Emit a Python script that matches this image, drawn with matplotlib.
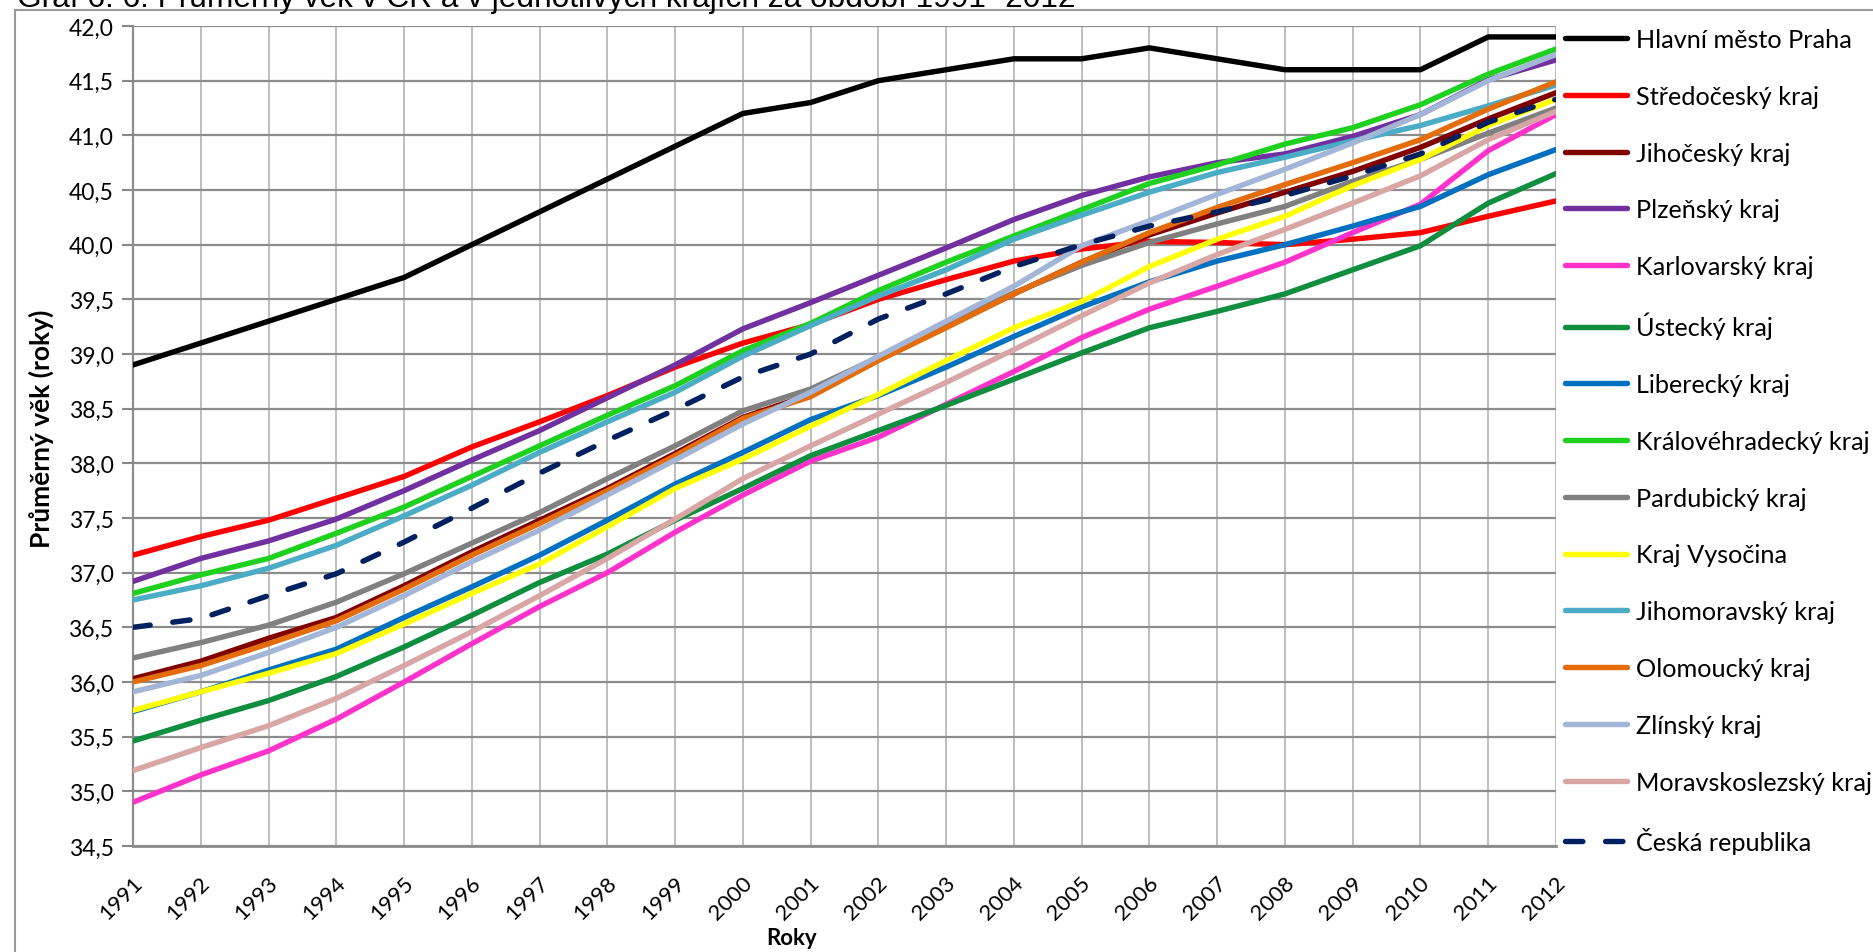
import matplotlib
matplotlib.use('Agg')
import matplotlib.pyplot as plt
from matplotlib.patches import Rectangle
from matplotlib.transforms import ScaledTranslation
import numpy as np

plt.rcParams['font.family'] = ['Lato', 'DejaVu Sans']

years = list(range(1991, 2013))

regions = ['Hlavní město Praha', 'Středočeský kraj', 'Jihočeský kraj', 'Plzeňský kraj',
           'Karlovarský kraj', 'Ústecký kraj', 'Liberecký kraj', 'Královéhradecký kraj',
           'Pardubický kraj', 'Kraj Vysočina', 'Jihomoravský kraj', 'Olomoucký kraj',
           'Zlínský kraj', 'Moravskoslezský kraj', 'Česká republika']

# average age per year, 1991-2012
praha = [38.9, 39.1, 39.3, 39.5, 39.7, 40.0, 40.3, 40.6, 40.9, 41.2, 41.3,
         41.5, 41.6, 41.7, 41.7, 41.8, 41.7, 41.6, 41.6, 41.6, 41.9, 41.9]
stredocesky = [37.16, 37.33, 37.48, 37.68, 37.88, 38.15, 38.38, 38.62, 38.88, 39.1, 39.27,
               39.5, 39.68, 39.85, 39.96, 40.03, 40.02, 40.0, 40.05, 40.11, 40.26, 40.4]
jihocesky = [36.03, 36.19, 36.4, 36.59, 36.88, 37.19, 37.48, 37.77, 38.09, 38.42, 38.63,
             38.95, 39.25, 39.55, 39.84, 40.09, 40.29, 40.48, 40.67, 40.89, 41.15, 41.39]
plzensky = [36.92, 37.13, 37.29, 37.49, 37.75, 38.03, 38.3, 38.6, 38.9, 39.23, 39.47,
            39.72, 39.97, 40.23, 40.45, 40.62, 40.75, 40.83, 40.99, 41.19, 41.51, 41.69]
karlovarsky = [34.9, 35.15, 35.37, 35.66, 36.0, 36.35, 36.69, 37.0, 37.37, 37.71, 38.02,
               38.24, 38.54, 38.84, 39.15, 39.41, 39.62, 39.84, 40.11, 40.37, 40.86, 41.19]
ustecky = [35.46, 35.65, 35.83, 36.05, 36.32, 36.61, 36.91, 37.17, 37.48, 37.77, 38.07,
           38.3, 38.53, 38.77, 39.01, 39.24, 39.39, 39.55, 39.77, 39.99, 40.38, 40.65]
liberecky = [35.73, 35.91, 36.11, 36.3, 36.59, 36.87, 37.16, 37.48, 37.81, 38.1, 38.4,
             38.62, 38.88, 39.16, 39.43, 39.66, 39.85, 40.0, 40.17, 40.35, 40.64, 40.87]
kralovehradecky = [36.81, 36.98, 37.13, 37.36, 37.6, 37.88, 38.16, 38.44, 38.71, 39.03, 39.28,
                   39.58, 39.84, 40.08, 40.32, 40.56, 40.73, 40.92, 41.07, 41.28, 41.56, 41.79]
pardubicky = [36.22, 36.36, 36.52, 36.73, 36.99, 37.27, 37.55, 37.86, 38.16, 38.48, 38.68,
              38.97, 39.27, 39.56, 39.81, 40.02, 40.19, 40.35, 40.58, 40.78, 41.02, 41.25]
vysocina = [35.74, 35.91, 36.08, 36.26, 36.53, 36.81, 37.08, 37.42, 37.77, 38.04, 38.34,
            38.63, 38.94, 39.24, 39.48, 39.8, 40.05, 40.26, 40.54, 40.78, 41.09, 41.33]
jihomoravsky = [36.75, 36.88, 37.04, 37.25, 37.52, 37.8, 38.1, 38.38, 38.65, 38.98, 39.26,
                39.53, 39.77, 40.05, 40.27, 40.48, 40.66, 40.8, 40.95, 41.09, 41.27, 41.46]
olomoucky = [36.0, 36.15, 36.35, 36.56, 36.85, 37.16, 37.45, 37.75, 38.07, 38.41, 38.61,
             38.94, 39.24, 39.55, 39.84, 40.11, 40.34, 40.55, 40.75, 40.96, 41.24, 41.49]
zlinsky = [35.91, 36.06, 36.27, 36.5, 36.79, 37.1, 37.39, 37.71, 38.03, 38.36, 38.65,
           38.98, 39.3, 39.62, 39.99, 40.22, 40.46, 40.69, 40.93, 41.19, 41.5, 41.74]
moravskoslezsky = [35.19, 35.4, 35.6, 35.85, 36.15, 36.46, 36.79, 37.13, 37.49, 37.86, 38.16,
                   38.45, 38.74, 39.04, 39.35, 39.65, 39.91, 40.14, 40.38, 40.63, 40.96, 41.22]
cr = [36.5, 36.58, 36.79, 36.99, 37.28, 37.59, 37.91, 38.21, 38.49, 38.79, 39.0,
      39.32, 39.55, 39.8, 40.0, 40.17, 40.3, 40.45, 40.63, 40.83, 41.12, 41.33]

series = [praha, stredocesky, jihocesky, plzensky, karlovarsky, ustecky, liberecky,
          kralovehradecky, pardubicky, vysocina, jihomoravsky, olomoucky, zlinsky,
          moravskoslezsky, cr]

colors = ['#000000', '#FF0000', '#800000', '#7030A0', '#FF33CC', '#0E8E3E', '#0070C0',
          '#1FD11F', '#808080', '#FFFF00', '#4BACC6', '#E46C0A', '#A3B6D8', '#D8A6A4',
          '#002060']

y_ticks = [34.5, 35.0, 35.5, 36.0, 36.5, 37.0, 37.5, 38.0, 38.5, 39.0, 39.5,
           40.0, 40.5, 41.0, 41.5, 42.0]

W, H = 1874, 953
fig = plt.figure(figsize=(W / 100, H / 100), dpi=100)
ax = fig.add_axes([133 / W, 1 - 847 / H, (1556 - 133) / W, (847 - 27) / H])

for name, vals, col in zip(regions, series, colors):
    if name == 'Česká republika':
        ax.plot(years, vals, color=col, lw=3.9, label=name,
                dashes=(3.2, 4.2), dash_capstyle='round', zorder=3)
    else:
        ax.plot(years, vals, color=col, lw=3.9, label=name,
                solid_capstyle='round', solid_joinstyle='round', zorder=3)

ax.set_xlim(years[0], years[-1])
ax.set_ylim(y_ticks[0], y_ticks[-1])
ax.set_xticks(years)
ax.set_yticks(y_ticks)
ax.set_yticklabels([f'{v:.1f}'.replace('.', ',') for v in y_ticks], fontsize=16.5)

ax.tick_params(axis='x', length=0, pad=24)
ax.tick_params(axis='y', length=8, width=1.5, color='#888888', pad=6)
ax.set_xticklabels([str(y) for y in years], rotation=45, ha='right', va='center',
                   rotation_mode='anchor', fontsize=16)
# nudge the rotated year labels a little to the right
shift = ScaledTranslation(6 / 100, 0, fig.dpi_scale_trans)
for lbl in ax.get_xticklabels():
    lbl.set_transform(lbl.get_transform() + shift)

ax.yaxis.grid(True, color='#8C8C8C', lw=1.6, zorder=0)
ax.xaxis.grid(True, color='#BEBEBE', lw=1.4, zorder=0)
ax.set_axisbelow(True)
for side in ['top', 'right']:
    ax.spines[side].set_visible(False)
ax.spines['left'].set_color('#8C8C8C')
ax.spines['left'].set_linewidth(1.6)
ax.spines['bottom'].set_color('#8C8C8C')
ax.spines['bottom'].set_linewidth(2)

fig.text(41 / W, 1 - 429 / H, 'Průměrný věk (roky)', rotation=90, fontsize=19,
         fontweight='bold', ha='center', va='center')
fig.text(792 / W, 1 - 939 / H, 'Roky', fontsize=16, fontweight='bold',
         ha='center', va='center')

fig.text(17 / W, 1 - 7 / H, 'Graf 6. 6: Průměrný věk v ČR a v jednotlivých krajích za období 1991- 2012',
         fontsize=22.8, family='Liberation Sans', ha='left', va='baseline')

# chart area frame
fig.patches.append(Rectangle((15 / W, -0.1), 1.2, 1.1 - 11 / H, transform=fig.transFigure,
                             fill=False, edgecolor='#9A9A9A', lw=1.5))

ax.legend(loc='upper left', bbox_to_anchor=(1565 / W, 1 - 29 / H),
          bbox_transform=fig.transFigure, frameon=False, fontsize=18.2,
          handlelength=2.45, handletextpad=0.35, labelspacing=1.336,
          borderpad=0, borderaxespad=0)

fig.savefig('out.png', dpi=100)
